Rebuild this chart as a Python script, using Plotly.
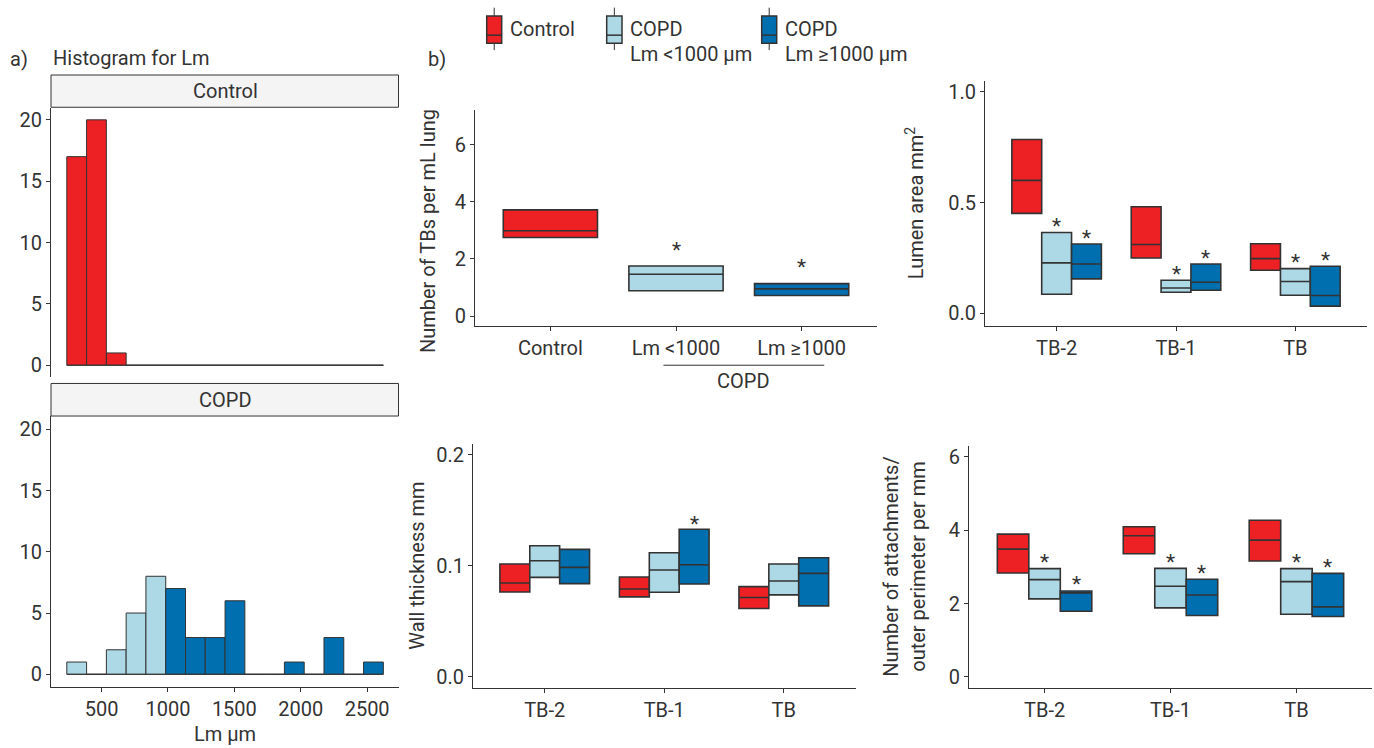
import plotly.graph_objects as go

# ---------------- DATA ----------------
# Histogram (panel a)
bin_start = 238.0
bin_width = 149.0
control_counts = [17, 20, 1, 0, 0, 0, 0, 0, 0, 0, 0, 0, 0, 0, 0, 0]
copd_counts = [1, 0, 2, 5, 8, 7, 3, 3, 6, 0, 0, 1, 0, 3, 0, 1]
lm_threshold = 1000

# Panel b) TBs per mL lung
tb_categories = ["Control", "Lm <1000", "Lm \u22651000"]
tb_q1 = [2.75, 0.89, 0.72]
tb_median = [2.99, 1.465, 0.952]
tb_q3 = [3.72, 1.755, 1.137]
tb_star = [None, 2.46, 1.85]

# Generations
generations = ["TB-2", "TB-1", "TB"]
groups = ["Control", "COPD Lm <1000 \u00b5m", "COPD Lm \u22651000 \u00b5m"]

# Lumen area mm2: [group][generation]
lumen_q1 = [[0.451, 0.250, 0.195], [0.087, 0.096, 0.082], [0.156, 0.105, 0.033]]
lumen_median = [[0.600, 0.311, 0.247], [0.228, 0.115, 0.144], [0.223, 0.141, 0.081]]
lumen_q3 = [[0.784, 0.481, 0.314], [0.365, 0.150, 0.202], [0.313, 0.223, 0.213]]
lumen_star = [[None, None, None], [0.41, 0.196, 0.251], [0.358, 0.268, 0.26]]

# Wall thickness mm
wall_q1 = [[0.0763, 0.0719, 0.0614], [0.0895, 0.0760, 0.0737], [0.0838, 0.0835, 0.0638]]
wall_median = [[0.0844, 0.0790, 0.0713], [0.1045, 0.0961, 0.0862], [0.0985, 0.1009, 0.0931]]
wall_q3 = [[0.1015, 0.0898, 0.0811], [0.1180, 0.1117, 0.1015], [0.1147, 0.1329, 0.1072]]
wall_star = [[None, None, None], [None, None, None], [None, 0.1416, None]]

# Attachments per outer perimeter mm
att_q1 = [[2.835, 3.361, 3.161], [2.129, 1.884, 1.712], [1.793, 1.676, 1.649]]
att_median = [[3.487, 3.850, 3.732], [2.654, 2.473, 2.600], [2.292, 2.237, 1.911]]
att_q3 = [[3.895, 4.094, 4.275], [2.953, 2.962, 2.953], [2.346, 2.663, 2.826]]
att_star = [[None, None, None], [3.243, 3.243, 3.243], [2.636, 2.935, 3.116]]

# ---------------- STYLE ----------------
W, H = 1374, 748
RED = "#ED2024"
LIGHT = "#ADD8E6"
DARK = "#006FB0"
group_colors = [RED, LIGHT, DARK]
INK = "#333333"
FONT = "Roboto"
FS = 20


def px(x):
    return x / W


def py(y):
    return 1 - y / H


fig = go.Figure()

# ---------------- Panel a: histograms ----------------
centers = [bin_start + (i + 0.5) * bin_width for i in range(len(control_counts))]
edges_span = [bin_start, bin_start + len(control_counts) * bin_width]

fig.add_trace(go.Scatter(x=edges_span, y=[0, 0], mode="lines",
                         line=dict(color=INK, width=1), xaxis="x", yaxis="y",
                         showlegend=False, hoverinfo="skip"))
fig.add_trace(go.Bar(x=centers, y=control_counts, width=bin_width,
                     marker=dict(color=RED, line=dict(color=INK, width=1)),
                     xaxis="x", yaxis="y", showlegend=False))

copd_colors = [LIGHT if c < lm_threshold else DARK for c in centers]
fig.add_trace(go.Scatter(x=edges_span, y=[0, 0], mode="lines",
                         line=dict(color=INK, width=1), xaxis="x2", yaxis="y2",
                         showlegend=False, hoverinfo="skip"))
fig.add_trace(go.Bar(x=centers, y=copd_counts, width=bin_width,
                     marker=dict(color=copd_colors, line=dict(color=INK, width=1)),
                     xaxis="x2", yaxis="y2", showlegend=False))

# ---------------- Panel b1: TBs per mL ----------------
for i, cat in enumerate(tb_categories):
    fig.add_trace(go.Box(x=[cat], q1=[tb_q1[i]], median=[tb_median[i]], q3=[tb_q3[i]],
                         lowerfence=[tb_q1[i]], upperfence=[tb_q3[i]],
                         fillcolor=group_colors[i], line=dict(color=INK, width=1.6),
                         whiskerwidth=0, offsetgroup="b1", alignmentgroup="b1",
                         xaxis="x3", yaxis="y3", showlegend=False))

# ---------------- Grouped panels ----------------
def add_grouped(q1, med, q3, xa, ya):
    for g in range(3):
        fig.add_trace(go.Box(x=generations, q1=q1[g], median=med[g], q3=q3[g],
                             lowerfence=q1[g], upperfence=q3[g],
                             fillcolor=group_colors[g], line=dict(color=INK, width=1.6),
                             whiskerwidth=0, offsetgroup=f"{xa}g{g}",
                             alignmentgroup=xa,
                             xaxis=xa, yaxis=ya, showlegend=False))


add_grouped(lumen_q1, lumen_median, lumen_q3, "x4", "y4")
add_grouped(wall_q1, wall_median, wall_q3, "x5", "y5")
add_grouped(att_q1, att_median, att_q3, "x6", "y6")

# ---------------- Axes ----------------
axis_common = dict(showline=True, linecolor=INK, linewidth=1, ticks="outside",
                   ticklen=4, tickcolor=INK, tickwidth=1, showgrid=False,
                   zeroline=False, tickfont=dict(family=FONT, size=FS, color=INK))


def dom_x(a, b):
    return [px(a), px(b)]


def dom_y(top, bottom):
    return [py(bottom), py(top)]


layout_axes = {
    # Histogram Control
    "xaxis": dict(domain=dom_x(51, 399), range=[119, 2740], anchor="y",
                  showline=False, showticklabels=False, ticks="", showgrid=False,
                  zeroline=False),
    "yaxis": dict(axis_common, domain=dom_y(107, 378), range=[-1, 21], anchor="x",
                  tickvals=[0, 5, 10, 15, 20]),
    # Histogram COPD
    "xaxis2": dict(axis_common, domain=dom_x(51, 399), range=[119, 2740], anchor="y2",
                   tickvals=[500, 1000, 1500, 2000, 2500]),
    "yaxis2": dict(axis_common, domain=dom_y(416.7, 688.3), range=[-1, 21.08], anchor="x2",
                   tickvals=[0, 5, 10, 15, 20]),
    # b1
    "xaxis3": dict(axis_common, domain=dom_x(475, 877), range=[-0.6, 2.6], anchor="y3",
                   type="category", categoryorder="array", categoryarray=tb_categories),
    "yaxis3": dict(axis_common, domain=dom_y(109.3, 326.7), range=[-0.36, 7.22], anchor="x3",
                   tickvals=[0, 2, 4, 6]),
    # b2 lumen
    "xaxis4": dict(axis_common, domain=dom_x(985, 1367), range=[-0.6, 2.6], anchor="y4",
                   type="category", categoryorder="array", categoryarray=generations),
    "yaxis4": dict(axis_common, domain=dom_y(80, 326), range=[-0.055, 1.049], anchor="x4",
                   tickvals=[0, 0.5, 1.0], ticktext=["0.0", "0.5", "1.0"]),
    # b3 wall
    "xaxis5": dict(axis_common, domain=dom_x(473, 855.5), range=[-0.6, 2.6], anchor="y5",
                   type="category", categoryorder="array", categoryarray=generations),
    "yaxis5": dict(axis_common, domain=dom_y(445, 689.3), range=[-0.0099, 0.2096], anchor="x5",
                   tickvals=[0, 0.1, 0.2], ticktext=["0.0", "0.1", "0.2"]),
    # b4 attachments
    "xaxis6": dict(axis_common, domain=dom_x(969, 1372), range=[-0.6, 2.6], anchor="y6",
                   type="category", categoryorder="array", categoryarray=generations),
    "yaxis6": dict(axis_common, domain=dom_y(446.7, 689.3), range=[-0.288, 6.30], anchor="x6",
                   tickvals=[0, 2, 4, 6]),
}

shapes = []
annotations = []


def txt(x, y, text, xanchor="left", size=FS, angle=0, **kw):
    annotations.append(dict(x=px(x), y=py(y), xref="paper", yref="paper", text=text,
                            showarrow=False, xanchor=xanchor, yanchor="middle",
                            textangle=angle, font=dict(family=FONT, size=size, color=INK), **kw))


# Facet strips
for (top, bottom, label) in [(74.3, 106.7, "Control"), (384, 416.7, "COPD")]:
    shapes.append(dict(type="rect", xref="paper", yref="paper", x0=px(51), x1=px(398.5),
                       y0=py(bottom), y1=py(top), fillcolor="#F3F4F3",
                       line=dict(color=INK, width=1)))
    txt(225, (top + bottom) / 2, label, xanchor="center")

# Panel labels
txt(8, 58, "a)")
txt(51, 57, "Histogram for Lm")
txt(426, 58, "b)")
txt(225, 736, "Lm \u00b5m", xanchor="center")

# Y axis titles
txt(428, 231, "Number of TBs per mL lung", xanchor="center", angle=-90)
txt(915, 203, "Lumen area mm<sup>2</sup>", xanchor="center", angle=-90)
txt(417, 567, "Wall thickness mm", xanchor="center", angle=-90)
txt(891, 568, "Number of attachments/", xanchor="center", angle=-90)
txt(918, 568, "outer perimeter per mm", xanchor="center", angle=-90)

# COPD bracket under b1
shapes.append(dict(type="line", xref="x3", yref="paper", x0=0.9, x1=2.18,
                   y0=py(365.7), y1=py(365.7), line=dict(color=INK, width=1)))
annotations.append(dict(x=1.54, y=py(382), xref="x3", yref="paper", text="COPD",
                        showarrow=False, xanchor="center", yanchor="middle",
                        font=dict(family=FONT, size=FS, color=INK)))

# Stars
def star(xref, yref, x, y):
    annotations.append(dict(x=x, y=y, xref=xref, yref=yref, text="*", showarrow=False,
                            xanchor="center", yanchor="middle", yshift=-4,
                            font=dict(family=FONT, size=21, color=INK)))


for i, s in enumerate(tb_star):
    if s is not None:
        star("x3", "y3", i, s)

for (stars, xa, ya) in [(lumen_star, "x4", "y4"), (wall_star, "x5", "y5"), (att_star, "x6", "y6")]:
    for g in range(3):
        for k in range(3):
            if stars[g][k] is not None:
                star(xa, ya, k + (g - 1) * 0.25, stars[g][k])

# Legend (manual)
legend_keys = [(486.7, 501.7, 507.7, "Control", None),
               (606.7, 622.0, 628.3, "COPD", "Lm <1000 \u00b5m"),
               (761.7, 776.7, 782.7, "COPD", "Lm \u22651000 \u00b5m")]
for i, (x0, x1, tx, l1, l2) in enumerate(legend_keys):
    xc = (x0 + x1) / 2
    shapes.append(dict(type="line", xref="paper", yref="paper", x0=px(xc), x1=px(xc),
                       y0=py(49.3), y1=py(6.7), line=dict(color=INK, width=1)))
    shapes.append(dict(type="rect", xref="paper", yref="paper", x0=px(x0), x1=px(x1),
                       y0=py(42.3), y1=py(15), fillcolor=group_colors[i],
                       line=dict(color=INK, width=1.5)))
    shapes.append(dict(type="line", xref="paper", yref="paper", x0=px(x0), x1=px(x1),
                       y0=py(34.3), y1=py(34.3), line=dict(color=INK, width=1.5)))
    txt(tx, 28.3, l1)
    if l2:
        txt(tx, 53.3, l2)

fig.update_layout(
    width=W, height=H, margin=dict(l=0, r=0, t=0, b=0),
    paper_bgcolor="white", plot_bgcolor="white",
    barmode="overlay", boxmode="group", boxgap=0.25, boxgroupgap=0,
    showlegend=False, shapes=shapes, annotations=annotations,
    font=dict(family=FONT, size=FS, color=INK),
    **layout_axes,
)

fig.write_html("out.html", config={"displayModeBar": False},
               post_script="document.body.style.margin='0px';document.body.style.overflow='hidden';")
